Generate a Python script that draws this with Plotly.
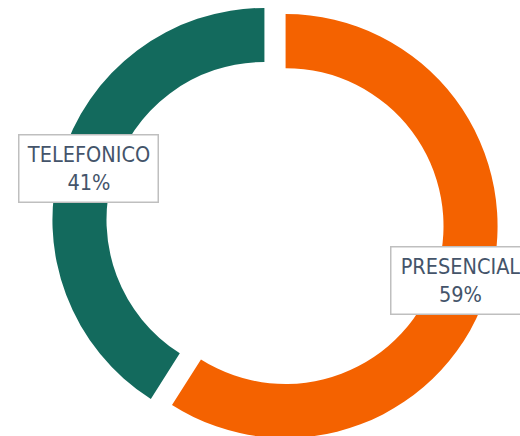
import plotly.graph_objects as go

labels = ["PRESENCIAL", "TELEFONICO"]
values = [59, 41]
colors = ["#F46200", "#136A5D"]
box_text = ["PRESENCIAL<br>59%", "TELEFONICO<br>41%"]

W, H = 520, 446

fig = go.Figure(go.Pie(
    labels=labels,
    values=values,
    sort=False,
    direction="clockwise",
    rotation=0,
    hole=0.745,
    pull=[0.052, 0.052],
    marker=dict(colors=colors, line=dict(width=0)),
    textinfo="none",
    hoverinfo="label+percent",
    domain=dict(x=[52 / W, 498 / W], y=[0, 1]),
    showlegend=False,
))

font = dict(family="DejaVu Sans Condensed, Liberation Sans Narrow, sans-serif",
            size=21.5, color="#44546A")

pos = [(460, 280.5), (88, 168)]
for (px, py), t in zip(pos, box_text):
    fig.add_annotation(
        x=px / W, y=1 - py / H, xref="paper", yref="paper",
        xanchor="center", yanchor="middle",
        text=t, showarrow=False, font=font,
        bgcolor="white", bordercolor="#BFBFBF", borderwidth=1.5,
        borderpad=0, width=138, height=66, align="center",
    )

fig.update_layout(
    width=W, height=H,
    margin=dict(l=0, r=0, t=0, b=0),
    paper_bgcolor="white", plot_bgcolor="white",
)

fig.write_html("out.html", post_script="document.body.style.overflow='hidden';document.documentElement.style.overflow='hidden';")
